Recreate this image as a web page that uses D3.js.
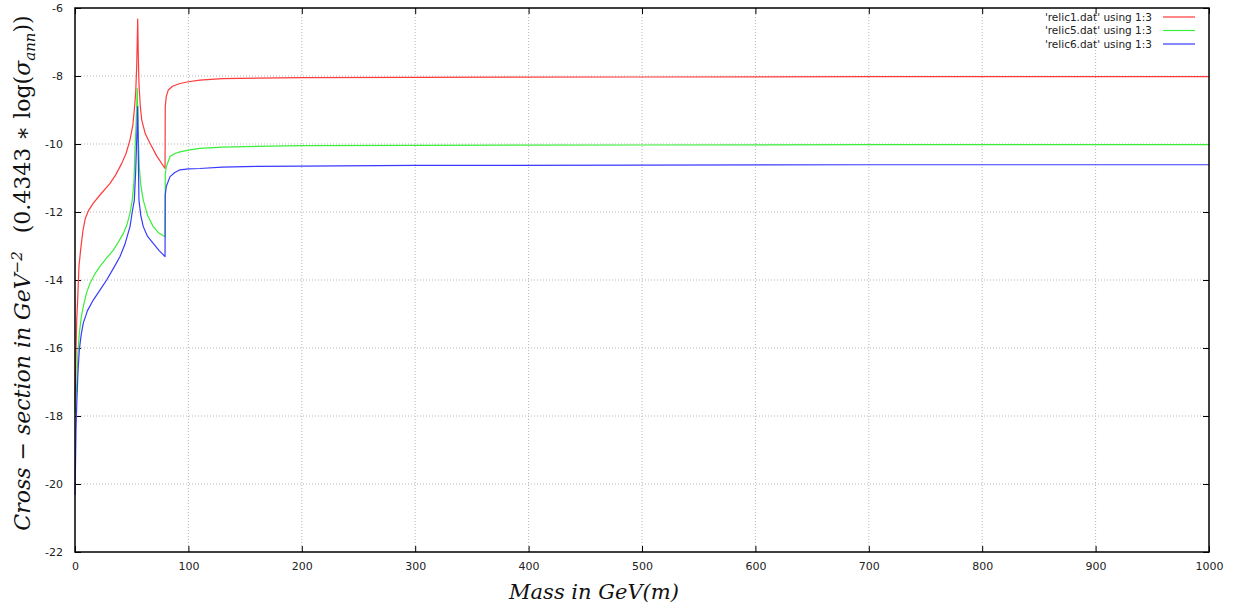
<!DOCTYPE html>
<html>
<head>
<meta charset="utf-8">
<script src="https://cdn.jsdelivr.net/npm/d3@7"></script>
<style>
  body { margin: 0; background: #fff; }
  svg { display: block; }
</style>
</head>
<body>
<div id="vis"></div>
<script>
// values (mass in GeV, 0.4343*log(sigma))
var relic1_m = [0.2, 0.5, 0.9, 1.5, 2.4, 3.5, 5, 7, 9, 12, 16.2, 22, 30.9, 36, 41.2, 45, 48.5, 51, 52.3, 53.5, 54.4, 55.3, 55.8, 56.4, 57.5, 58.8, 62, 66.1, 72, 79.4, 79.6, 80.5, 82.3, 86, 92.6, 100, 110, 130, 160, 200, 300, 500, 700, 1000];
var relic1_v = [-17.7, -16.9, -16.06, -15.2, -14.54, -13.6, -13.1, -12.55, -12.2, -11.95, -11.74, -11.5, -11.16, -10.9, -10.57, -10.28, -9.88, -9.45, -9.0, -8.5, -7.73, -6.33, -7.4, -8.22, -8.85, -9.29, -9.7, -9.98, -10.35, -10.72, -8.9, -8.6, -8.41, -8.3, -8.22, -8.17, -8.12, -8.08, -8.06, -8.05, -8.04, -8.03, -8.02, -8.02];

var relic5_m = [0.2, 0.8, 1.5, 2.5, 3.8, 5.5, 7.3, 10, 13.2, 17, 22, 28, 33.8, 38, 42.6, 46, 48.5, 50.5, 52, 52.9, 54, 54.9, 55.5, 56.7, 58, 60.2, 64, 69, 74, 79.4, 79.6, 80.5, 83.8, 88, 92.6, 100, 110, 130, 160, 200, 300, 500, 700, 1000];
var relic5_v = [-17.9, -17.5, -17.1, -16.2, -15.57, -15.1, -14.78, -14.4, -14.1, -13.85, -13.6, -13.35, -13.12, -12.9, -12.63, -12.35, -12.04, -11.65, -11.1, -10.18, -9.3, -8.36, -9.4, -10.67, -11.2, -11.65, -12.1, -12.43, -12.62, -12.73, -10.9, -10.67, -10.37, -10.28, -10.23, -10.18, -10.13, -10.09, -10.07, -10.05, -10.04, -10.03, -10.02, -10.02];

var relic6_m = [0.1, 0.4, 0.9, 1.5, 2.5, 3.8, 5.5, 7.3, 11, 16.1, 22, 27.9, 34, 39.7, 44, 48.5, 50.5, 52.3, 53.5, 54.5, 55.3, 55.8, 56.4, 58, 60.2, 64, 69, 74, 79.4, 79.6, 80.5, 83.8, 88, 92.6, 100, 110, 130, 160, 200, 300, 500, 700, 1000];
var relic6_v = [-20.32, -19.5, -18.4, -17.7, -16.8, -16.06, -15.6, -15.27, -14.9, -14.59, -14.3, -14.0, -13.65, -13.31, -12.95, -12.43, -12.0, -11.65, -10.8, -9.8, -8.9, -10.3, -11.65, -12.1, -12.43, -12.72, -12.92, -13.13, -13.31, -11.5, -11.25, -10.96, -10.84, -10.76, -10.73, -10.72, -10.68, -10.66, -10.65, -10.63, -10.62, -10.61, -10.61];

var seriesNames = ["'relic1.dat' using 1:3", "'relic5.dat' using 1:3", "'relic6.dat' using 1:3"];
var seriesColors = ["#ff3a3a", "#3aee3a", "#3a3aff"];
var xTicks = [0, 100, 200, 300, 400, 500, 600, 700, 800, 900, 1000];
var yTicks = [-22, -20, -18, -16, -14, -12, -10, -8, -6];

var w = 1249, h = 608;
var plotL = 75, plotR = 1209, plotT = 8, plotB = 552;

var svg = d3.select("#vis").append("svg")
  .attr("width", w).attr("height", h);

var x = d3.scaleLinear().domain([0, 1000]).range([plotL, plotR]);
var y = d3.scaleLinear().domain([-22, -6]).range([plotB, plotT]);

// grid
svg.append("g").selectAll("line").data(xTicks.slice(1, -1)).enter().append("line")
  .attr("x1", d => x(d)).attr("x2", d => x(d))
  .attr("y1", plotT).attr("y2", plotB)
  .attr("stroke", "#b8b8b8").attr("stroke-width", 1).attr("stroke-dasharray", "1,2");
svg.append("g").selectAll("line").data(yTicks.slice(1, -1)).enter().append("line")
  .attr("x1", plotL).attr("x2", plotR)
  .attr("y1", d => y(d)).attr("y2", d => y(d))
  .attr("stroke", "#b8b8b8").attr("stroke-width", 1).attr("stroke-dasharray", "1,2");

// axes, ticks inward on all four sides
function styleAxis(g) {
  g.select(".domain").remove();
  g.selectAll(".tick line").attr("stroke", "#000");
  g.selectAll(".tick text").attr("fill", "#222")
    .style("font-family", "'DejaVu Sans', sans-serif").style("font-size", "11px");
}
var plainFmt = d => String(d);
svg.append("g").attr("transform", `translate(0,${plotB})`)
  .call(d3.axisBottom(x).tickValues(xTicks).tickFormat(plainFmt).tickSizeInner(-6).tickPadding(10))
  .call(styleAxis);
svg.append("g").attr("transform", `translate(0,${plotT})`)
  .call(d3.axisTop(x).tickValues(xTicks).tickFormat("").tickSizeInner(-6))
  .call(styleAxis);
svg.append("g").attr("transform", `translate(${plotL},0)`)
  .call(d3.axisLeft(y).tickValues(yTicks).tickFormat(plainFmt).tickSizeInner(-6).tickPadding(12))
  .call(styleAxis);
svg.append("g").attr("transform", `translate(${plotR},0)`)
  .call(d3.axisRight(y).tickValues(yTicks).tickFormat("").tickSizeInner(-6))
  .call(styleAxis);

// lines
var line = d3.line().x(d => x(d[0])).y(d => y(d[1]));
var series = [
  d3.zip(relic1_m, relic1_v),
  d3.zip(relic5_m, relic5_v),
  d3.zip(relic6_m, relic6_v)
];
svg.append("g").selectAll("path").data(series).enter().append("path")
  .attr("d", line)
  .attr("fill", "none")
  .attr("stroke", (d, i) => seriesColors[i])
  .attr("stroke-width", 1.2)
  .attr("stroke-linejoin", "round");

// frame
svg.append("rect")
  .attr("x", plotL).attr("y", plotT)
  .attr("width", plotR - plotL).attr("height", plotB - plotT)
  .attr("fill", "none").attr("stroke", "#000").attr("stroke-width", 1.5);

// legend
var legend = svg.append("g").selectAll("g").data(seriesNames).enter().append("g")
  .attr("transform", (d, i) => `translate(0,${17 + i * 13.5})`);
legend.append("text")
  .attr("x", 1152).attr("y", 0).attr("dy", "0.35em")
  .attr("text-anchor", "end")
  .style("font-family", "'DejaVu Sans', sans-serif").style("font-size", "10.5px")
  .attr("fill", "#222")
  .text(d => d);
legend.append("line")
  .attr("x1", 1163).attr("x2", 1195)
  .attr("stroke", (d, i) => seriesColors[i]).attr("stroke-width", 1.2);

// axis titles
svg.append("text")
  .attr("x", 594).attr("y", 599)
  .attr("text-anchor", "middle")
  .style("font-family", "'DejaVu Serif', serif").style("font-style", "italic").style("font-size", "21px")
  .attr("fill", "#111")
  .text("Mass in GeV(m)");

var yl = svg.append("text")
  .attr("transform", "translate(30,273) rotate(-90)")
  .attr("text-anchor", "middle")
  .style("font-family", "'DejaVu Serif', serif").style("font-style", "italic").style("font-size", "22px")
  .attr("fill", "#111");
yl.append("tspan").text("Cross − section in GeV");
yl.append("tspan").attr("dy", -8).style("font-size", "15px").text("−2");
yl.append("tspan").attr("dy", 8).style("font-style", "normal").text("\u2002 (0.4343 ∗ log(");
yl.append("tspan").text("σ");
yl.append("tspan").attr("dy", 5).style("font-size", "15px").text("ann");
yl.append("tspan").attr("dy", -5).style("font-style", "normal").text("))");
</script>
</body>
</html>
